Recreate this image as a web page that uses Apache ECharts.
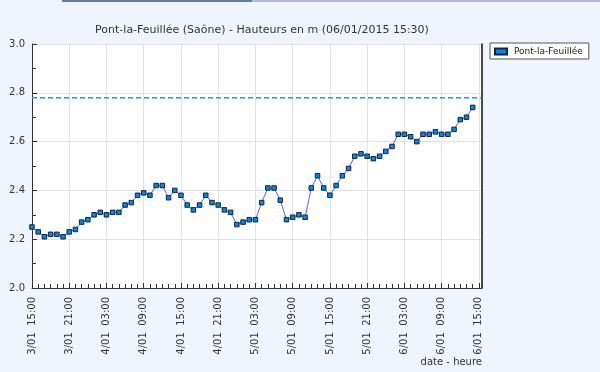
<!DOCTYPE html>
<html>
<head>
<meta charset="utf-8">
<script src="https://cdn.jsdelivr.net/npm/echarts@6/dist/echarts.min.js"></script>
<style>
html,body{margin:0;padding:0;background:#f0f4fc;}
#c{width:600px;height:372px;}
</style>
</head>
<body>
<div id="c"></div>
<script>
// Observation times (hourly), day/month hour
const times = [
"3/01 15:00","3/01 16:00","3/01 17:00","3/01 18:00","3/01 19:00","3/01 20:00","3/01 21:00","3/01 22:00","3/01 23:00",
"4/01 00:00","4/01 01:00","4/01 02:00","4/01 03:00","4/01 04:00","4/01 05:00","4/01 06:00","4/01 07:00","4/01 08:00",
"4/01 09:00","4/01 10:00","4/01 11:00","4/01 12:00","4/01 13:00","4/01 14:00","4/01 15:00","4/01 16:00","4/01 17:00",
"4/01 18:00","4/01 19:00","4/01 20:00","4/01 21:00","4/01 22:00","4/01 23:00",
"5/01 00:00","5/01 01:00","5/01 02:00","5/01 03:00","5/01 04:00","5/01 05:00","5/01 06:00","5/01 07:00","5/01 08:00",
"5/01 09:00","5/01 10:00","5/01 11:00","5/01 12:00","5/01 13:00","5/01 14:00","5/01 15:00","5/01 16:00","5/01 17:00",
"5/01 18:00","5/01 19:00","5/01 20:00","5/01 21:00","5/01 22:00","5/01 23:00",
"6/01 00:00","6/01 01:00","6/01 02:00","6/01 03:00","6/01 04:00","6/01 05:00","6/01 06:00","6/01 07:00","6/01 08:00",
"6/01 09:00","6/01 10:00","6/01 11:00","6/01 12:00","6/01 13:00","6/01 14:00"
];
// Water heights (m)
const heights = [
2.25,2.23,2.21,2.22,2.22,2.21,2.23,2.24,2.27,
2.28,2.30,2.31,2.30,2.31,2.31,2.34,2.35,2.38,
2.39,2.38,2.42,2.42,2.37,2.40,2.38,2.34,2.32,
2.34,2.38,2.35,2.34,2.32,2.31,
2.26,2.27,2.28,2.28,2.35,2.41,2.41,2.36,2.28,
2.29,2.30,2.29,2.41,2.46,2.41,2.38,2.42,2.46,
2.49,2.54,2.55,2.54,2.53,2.54,
2.56,2.58,2.63,2.63,2.62,2.60,2.63,2.63,2.64,
2.63,2.63,2.65,2.69,2.70,2.74
];
const thresholdValue = 2.78;
const seriesName = "Pont-la-Feuillée";
const titleText = "Pont-la-Feuillée (Saône) - Hauteurs en m (06/01/2015 15:30)";
const xAxisTitle = "date - heure";
const startDay = 3, startHour = 15;   // axis origin: 3/01 15:00
const axisEndHours = 72.5;            // 6/01 15:30

function toOffset(s){
  const [dm, hm] = s.split(" ");
  const d = parseInt(dm.split("/")[0], 10);
  const h = parseInt(hm.split(":")[0], 10);
  return (d - startDay) * 24 + (h - startHour);
}
function fmt(v){
  const tot = startHour + v;
  const d = startDay + Math.floor(tot / 24);
  const h = ((tot % 24) + 24) % 24;
  return d + "/01  " + (h < 10 ? "0" + h : h) + ":00";
}
const data = times.map((t, i) => [toOffset(t), heights[i]]);
const thresholdData = [[0, thresholdValue], [axisEndHours, thresholdValue]];

const chart = echarts.init(document.getElementById('c'), null, {renderer: 'canvas'});
const FONT = 'DejaVu Sans';
chart.setOption({
  backgroundColor: '#f0f4fc',
  animation: false,
  textStyle: {fontFamily: FONT},
  title: {
    text: titleText,
    left: 257, top: 20, textAlign: 'center',
    textStyle: {fontFamily: FONT, fontSize: 11, fontWeight: 'normal', color: '#333'}
  },
  legend: {
    left: 490, top: 43,
    orient: 'vertical',
    backgroundColor: '#ffffff',
    borderColor: '#555',
    borderWidth: 1,
    borderRadius: 0,
    padding: [4, 6, 3, 4],
    itemWidth: 12, itemHeight: 6,
    itemGap: 4,
    textStyle: {fontFamily: FONT, fontSize: 9, color: '#222', padding: [0, 0, 0, 2]},
    data: [{name: seriesName, icon: 'rect'}]
  },
  grid: {
    left: 32, right: 118, top: 44, bottom: 84,
    show: true, backgroundColor: '#ffffff', borderWidth: 0,
    containLabel: false
  },
  xAxis: {
    type: 'value',
    min: 0, max: axisEndHours, interval: 6,
    axisLine: {show: true, lineStyle: {color: '#333', width: 1}},
    axisTick: {show: true, inside: true, length: 5, lineStyle: {color: '#333'}},
    minorTick: {show: true, splitNumber: 6, length: 4, lineStyle: {color: '#333'}},
    splitLine: {show: true, lineStyle: {color: '#e2e2e2', width: 1}},
    axisLabel: {
      rotate: 90, margin: 9,
      fontFamily: FONT, fontSize: 10, color: '#333',
      formatter: function(v){ return v % 6 === 0 ? fmt(v) : ''; },
      showMaxLabel: false
    }
  },
  yAxis: [{
    type: 'value',
    min: 2.0, max: 3.0, interval: 0.2,
    axisLine: {show: true, lineStyle: {color: '#333', width: 1}},
    axisTick: {show: true, inside: true, length: 5, lineStyle: {color: '#333'}},
    minorTick: {show: true, splitNumber: 2, length: 4, lineStyle: {color: '#333'}},
    splitLine: {show: true, lineStyle: {color: '#e2e2e2', width: 1}},
    axisLabel: {
      margin: 7, fontFamily: FONT, fontSize: 10, color: '#333',
      formatter: v => v.toFixed(1)
    }
  }, {
    type: 'value', position: 'right',
    min: 2.0, max: 3.0, interval: 0.2,
    axisLine: {show: true, lineStyle: {color: '#111', width: 1.5}},
    axisTick: {show: false}, axisLabel: {show: false}, splitLine: {show: false}
  }],
  graphic: [
    {type: 'rect', shape: {x: 62, y: 0, width: 190, height: 2}, style: {fill: '#5f7fa6'}},
    {type: 'rect', shape: {x: 252, y: 0, width: 348, height: 2}, style: {fill: '#aebbdc'}},
    {type: 'text', right: 118, top: 357,
     style: {text: xAxisTitle, font: '10px "DejaVu Sans"', fill: '#333', textAlign: 'right'}}
  ],
  series: [{
    name: 'seuil',
    type: 'line',
    data: thresholdData,
    symbol: 'none',
    silent: true,
    lineStyle: {color: '#0a9cff', type: [5, 3], width: 1.4},
    itemStyle: {color: '#0a9cff'},
    z: 2
  }, {
    name: seriesName,
    type: 'line',
    data: data,
    symbol: 'rect',
    symbolSize: 4.5,
    showAllSymbol: true,
    lineStyle: {color: '#5a5aff', width: 1},
    itemStyle: {color: '#0a86dc', borderColor: '#14243c', borderWidth: 1},
    z: 3
  }]
});
</script>
</body>
</html>
